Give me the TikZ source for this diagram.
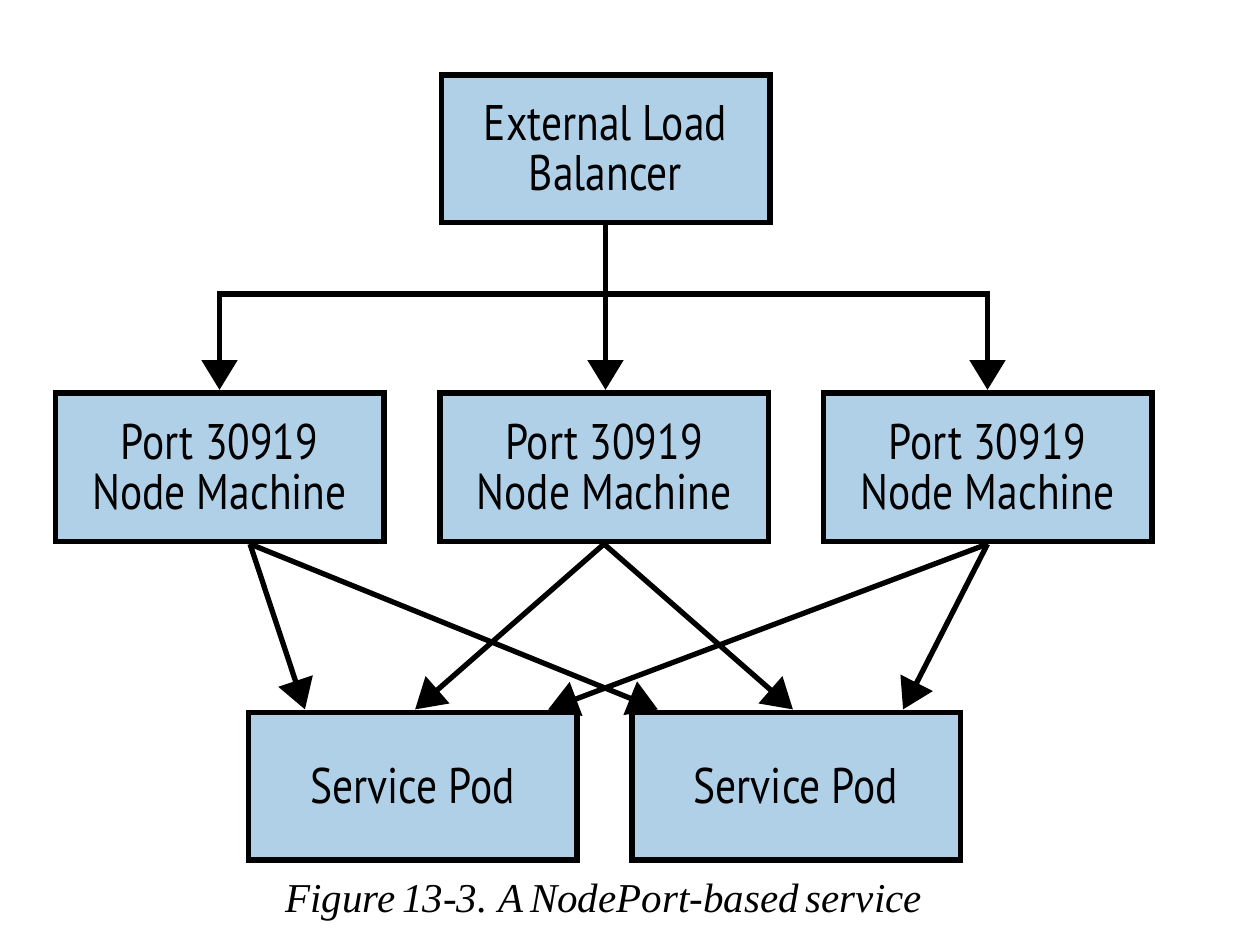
\documentclass[tikz,border=0pt]{standalone}
\usepackage{fontspec}
\setmainfont{Liberation Serif}
\newfontfamily\boxfont[FakeStretch=0.83]{PT Sans}
\newcommand\mycapfont{\fontsize{41}{41}\selectfont\itshape\spaceskip=0.17em plus 0.05em\relax}
\usetikzlibrary{arrows.meta,backgrounds,calc}
\definecolor{boxblue}{RGB}{176,208,232}
\begin{document}
\begin{tikzpicture}[x=1pt,y=-1pt,
  box/.style={draw=black, line width=5.5pt, fill=boxblue, minimum width=328.5pt,
    minimum height=147.5pt, inner sep=0pt, align=center,
    font=\boxfont\fontsize{50}{50}\selectfont},
  arr/.style={line width=5.3pt, -{Triangle[length=30pt,width=35pt]}},
  capt/.style={font=\mycapfont, inner sep=0pt}]
\useasboundingbox (0,0) rectangle (1236,940);
\node[box] (elb) at (605.5,148.5) {External Load\\Balancer};
\node[box, minimum height=148.5pt] (nl) at (219.5,467) {Port 30919\\Node Machine};
\node[box, minimum height=148.5pt] (nm) at (604,467) {Port 30919\\Node Machine};
\node[box, minimum height=148.5pt] (nr) at (987.5,467) {Port 30919\\Node Machine};
\node[box] (pl) at (412.5,786) {Service Pod};
\node[box] (pr) at (796,786) {Service Pod};
\node[capt, anchor=base] (cap) at (603.5,912) {Figure 13-3. A NodePort-based service};
\begin{scope}[on background layer]
  \fill[white] (0,0) rectangle (1236,940);
  \coordinate (bus) at (605,294);
  \draw[arr] (elb.south) -- (elb.south |- nm.north);
  \draw[arr] (bus) -| (nl.north);
  \draw[arr] (bus) -| (nr.north);
  \draw[arr] ([xshift=30.5pt]nl.south) -- ([xshift=-107.5pt]pl.north);
  \draw[arr] ([xshift=30.5pt]nl.south) -- ([xshift=-138pt]pr.north);
  \draw[arr] (nm.south) -- ([xshift=2.5pt]pl.north);
  \draw[arr] (nm.south) -- ([xshift=-3pt]pr.north);
  \draw[arr] (nr.south) -- ([xshift=135.5pt]pl.north);
  \draw[arr] (nr.south) -- ([xshift=107pt]pr.north);
\end{scope}
\end{tikzpicture}
\end{document}
